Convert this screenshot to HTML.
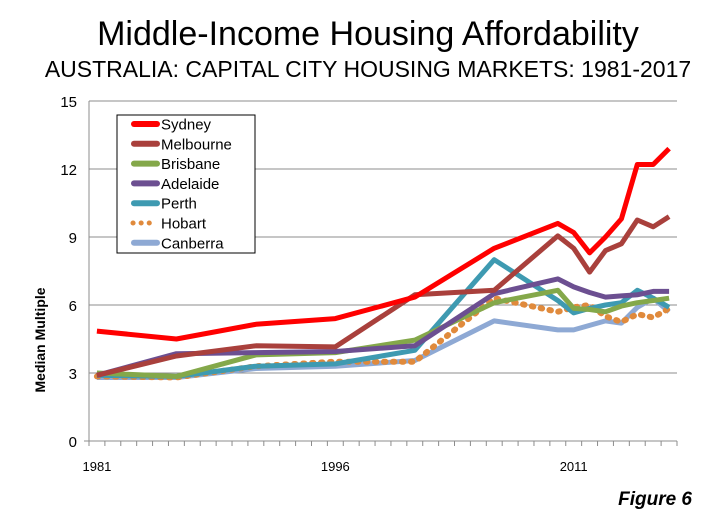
<!DOCTYPE html>
<html><head><meta charset="utf-8"><style>
body{margin:0;background:#fff;}
svg{display:block;font-family:"Liberation Sans",Arial,sans-serif;}
</style></head><body>
<svg width="706" height="522" viewBox="0 0 706 522">
<text x="368" y="45" font-size="34" text-anchor="middle">Middle-Income Housing Affordability</text>
<text x="368" y="77" font-size="23" text-anchor="middle">AUSTRALIA: CAPITAL CITY HOUSING MARKETS: 1981-2017</text>
<g id="grid"></g>
<g id="axes"></g>
<g id="series"></g>
<text x="45" y="340" font-size="14" font-weight="bold" transform="rotate(-90 45 340)" text-anchor="middle">Median Multiple</text>
<g id="legend"></g>
<text x="692" y="505" font-size="19" font-weight="bold" font-style="italic" text-anchor="end">Figure 6</text>
</svg>
<script>
const years=[1981,1986,1991,1996,2001,2006,2010,2011,2012,2013,2014,2015,2016,2017];
const yTicks=[0,3,6,9,12,15];
const xLabels=[1981,1996,2011];
const seriesNames=["Sydney","Melbourne","Brisbane","Adelaide","Perth","Hobart","Canberra"];
const sydney=[4.85,4.5,5.15,5.4,6.35,8.5,9.6,9.2,8.3,9.0,9.8,12.2,12.2,12.9];
const melbourne=[2.9,3.75,4.2,4.15,6.45,6.65,9.05,8.5,7.45,8.4,8.7,9.75,9.45,9.9];
const brisbane=[3.0,2.85,3.8,3.9,4.45,6.1,6.65,5.85,5.8,5.7,5.95,6.1,6.2,6.3];
const adelaide=[2.9,3.85,3.9,3.95,4.2,6.5,7.15,6.8,6.55,6.35,6.4,6.45,6.6,6.6];
const perth=[2.9,2.85,3.3,3.4,4.0,8.0,6.2,5.65,5.85,6.0,6.1,6.65,6.3,5.9];
const hobart=[2.85,2.8,3.3,3.5,3.5,6.3,5.7,5.9,6.0,5.5,5.25,5.6,5.45,5.85];
const canberra=[2.8,2.8,3.2,3.3,3.55,5.3,4.9,4.9,5.1,5.3,5.2,5.9,6.3,5.7];
const seriesData=[sydney,melbourne,brisbane,adelaide,perth,hobart,canberra];
const colors=["#ff0000","#a9403c","#84a84a","#6c4f91","#3e9ab1","#e08a3c","#8ea9d4"];
const NS="http://www.w3.org/2000/svg";
const X0=89,X1=677,Y0=441,Y1=101,firstYear=1981,nCat=37;
const cw=(X1-X0)/nCat;
function xs(y){return X0+cw*(y-firstYear+0.5);}
function ys(v){return Y0-(v/15)*(Y0-Y1);}
function mk(t,a,p){const e=document.createElementNS(NS,t);for(const k in a)e.setAttribute(k,a[k]);p.appendChild(e);return e;}
const grid=document.getElementById('grid'),axes=document.getElementById('axes'),ser=document.getElementById('series'),leg=document.getElementById('legend');
yTicks.forEach(v=>{
 if(v>0){const l=mk('line',{x1:X0,x2:X1,y1:ys(v),y2:ys(v),stroke:'#8c8c8c','stroke-width':1},grid);
 
 }
 const t=mk('text',{x:X0-12,y:ys(v)+6,'font-size':15,'text-anchor':'end'},axes);t.textContent=v;
 
 
});
const ya=mk('line',{x1:X0,x2:X0,y1:Y1,y2:Y0,stroke:'#8c8c8c'},axes);


const xa=mk('line',{x1:X0-5,x2:X1,y1:Y0,y2:Y0,stroke:'#8c8c8c'},axes);


for(let i=0;i<=nCat;i++){mk('line',{x1:X0+cw*i,x2:X0+cw*i,y1:Y0,y2:Y0+5,stroke:'#8c8c8c'},axes);}
xLabels.forEach(y=>{const t=mk('text',{x:xs(y),y:Y0+30,'font-size':13,'text-anchor':'middle'},axes);t.textContent=y;
 
 });
const order=[6,5,4,2,3,1,0];
order.forEach(i=>{
 const pts=years.map((y,j)=>xs(y).toFixed(1)+','+ys(seriesData[i][j]).toFixed(1)).join(' ');
 const a={points:pts,fill:'none',stroke:colors[i],'stroke-width':5,'stroke-linejoin':'round'};
 if(i===5){a['stroke-dasharray']='1.5 7.5';a['stroke-linecap']='round';a['stroke-width']=6;}
 const p=mk('polyline',a,ser);
 
 
});
mk('rect',{x:117,y:115,width:138,height:138,fill:'#fff',stroke:'#000','stroke-width':1},leg);
seriesNames.forEach((n,i)=>{
 const yy=124+i*19.8;
 const a={x1:134,x2:157,y1:yy,y2:yy,stroke:colors[i],'stroke-width':6,'stroke-linecap':'round'};
 if(i===5){a['stroke-dasharray']='0.1 8';a.x1=133;a['stroke-width']=5;}
 const l=mk('line',a,leg);
 
 
 const t=mk('text',{x:161,y:yy+5.5,'font-size':15},leg);t.textContent=n;
 
 
});
</script>
</body></html>
